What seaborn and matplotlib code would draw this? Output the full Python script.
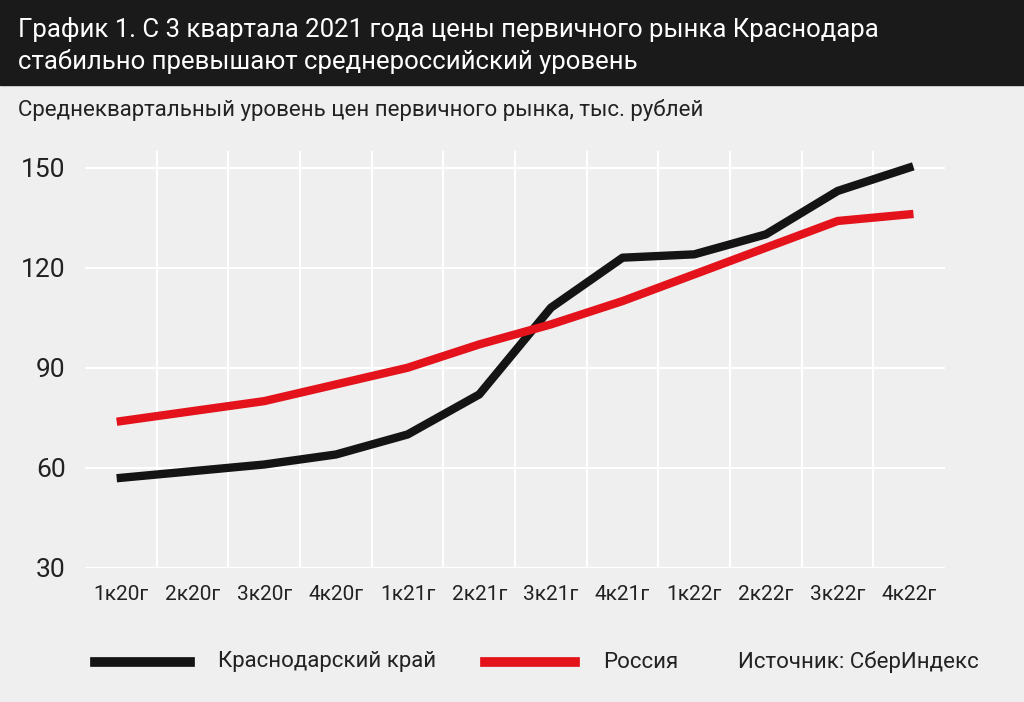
import pandas as pd
import matplotlib.pyplot as plt
import seaborn as sns
from matplotlib.lines import Line2D
from matplotlib.patches import Rectangle

quarters = ['1к20г', '2к20г', '3к20г', '4к20г', '1к21г', '2к21г',
            '3к21г', '4к21г', '1к22г', '2к22г', '3к22г', '4к22г']
krasnodar = [57, 59, 61, 64, 70, 82, 108, 123, 124, 130, 143, 150]
russia = [74, 77, 80, 85, 90, 97, 103, 110, 118, 126, 134, 136]
series_names = ['Краснодарский край', 'Россия']
colors = ['#141414', '#e3121b']

plt.rcParams['font.family'] = ['Roboto', 'DejaVu Sans']
bg = '#efefef'

df = pd.DataFrame({
    'quarter': quarters * 2,
    'pos': list(range(len(quarters))) * 2,
    'value': krasnodar + russia,
    'series': [series_names[0]] * len(quarters) + [series_names[1]] * len(quarters),
})

fig = plt.figure(figsize=(10.24, 7.02), dpi=100, facecolor=bg)
ax = fig.add_axes([0.083, 0.191, 0.84, 0.594])
ax.set_facecolor(bg)

sns.lineplot(data=df, x='pos', y='value', hue='series', palette=colors,
             linewidth=6, legend=False, ax=ax, zorder=3)

ax.set_xlim(-0.5, len(quarters) - 0.5)
ax.set_ylim(30, 155)
ax.set_yticks([30, 60, 90, 120, 150])
ax.set_xticks(range(len(quarters)))
ax.set_xticklabels(quarters)
ax.set_xticks([i + 0.5 for i in range(len(quarters) - 1)], minor=True)
ax.tick_params(axis='y', labelsize=19, length=0, pad=14, colors='#222222')
ax.tick_params(axis='x', which='major', labelsize=15, length=0, pad=12, colors='#222222')
ax.tick_params(axis='x', which='minor', length=0)
ax.grid(axis='y', color='white', linewidth=1.5)
ax.grid(axis='x', which='minor', color='white', linewidth=1.5)
ax.set_xlabel('')
ax.set_ylabel('')
for s in ax.spines.values():
    s.set_visible(False)

# title bar
fig.patches.append(Rectangle((0, 1 - 85 / 702), 1, 85 / 702, transform=fig.transFigure,
                             color='#1a1a1a', zorder=0))
fig.text(18 / 1024, 1 - 30 / 702, 'График 1. С 3 квартала 2021 года цены первичного рынка Краснодара',
         color='white', fontsize=18.5, va='center', ha='left')
fig.text(18 / 1024, 1 - 61 / 702, 'стабильно превышают среднероссийский уровень',
         color='white', fontsize=18.5, va='center', ha='left')
fig.text(18 / 1024, 1 - 110 / 702, 'Среднеквартальный уровень цен первичного рынка, тыс. рублей',
         color='#222222', fontsize=16, va='center', ha='left')

# legend
ly = 1 - 662 / 702
for (x0, x1), c in zip([(95, 190), (485, 575)], colors):
    fig.lines.append(Line2D([x0 / 1024, x1 / 1024], [ly, ly], transform=fig.transFigure,
                            color=c, linewidth=7))
fig.text(218 / 1024, ly, series_names[0], fontsize=16, va='center', color='#222222')
fig.text(603 / 1024, ly, series_names[1], fontsize=16, va='center', color='#222222')
fig.text(738 / 1024, ly, 'Источник: СберИндекс', fontsize=16, va='center', color='#222222')

fig.savefig('out.png', dpi=100, facecolor=bg)
